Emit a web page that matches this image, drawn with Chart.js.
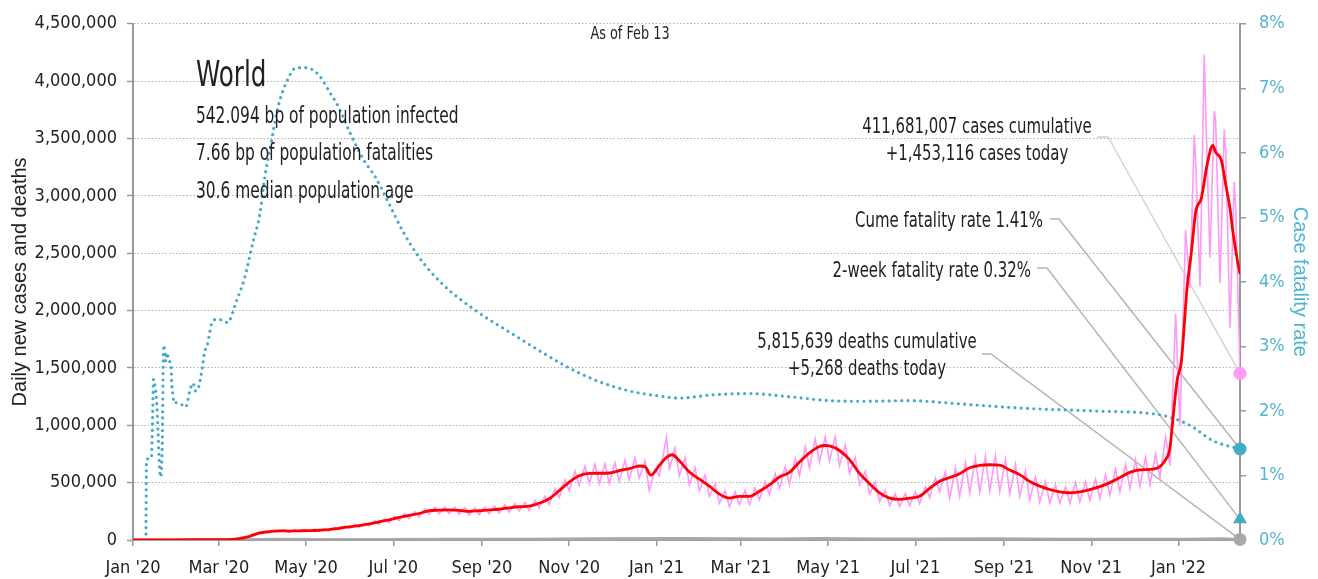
<!DOCTYPE html>
<html>
<head>
<meta charset="utf-8">
<script src="https://cdn.jsdelivr.net/npm/chart.js@4.4.1/dist/chart.umd.min.js"></script>
<style>
  html, body { margin: 0; padding: 0; background: #fff; }
  #wrap { width: 1318px; height: 579px; position: relative; }
</style>
</head>
<body>
<div id="wrap"><canvas id="chart"></canvas></div>
<script>
// x values are days since Jan 1 2020, case counts in thousands
const tickDays = [0, 60, 121, 182, 244, 305, 366, 425, 486, 547, 609, 670, 731];
const tickLabels = ["Jan '20", "Mar '20", "May '20", "Jul '20", "Sep '20", "Nov '20", "Jan '21", "Mar '21", "May '21", "Jul '21", "Sep '21", "Nov '21", "Jan '22"];

// daily new cases (pink)
const dailyDays = [0, 10, 21, 28, 35, 42, 43, 44, 50, 56,
  60, 64, 67, 71, 74, 78, 81, 85, 88, 92, 95, 99, 102, 106, 109, 113, 116, 120, 123, 127, 130, 134, 137, 141,
  144, 148, 151, 155, 158, 162, 165, 169, 172, 176, 179, 183, 186, 190, 193, 197, 200, 204, 207, 211, 214, 218,
  221, 225, 228, 232, 235, 239, 242, 246, 249, 253, 256, 260, 263, 267, 270, 274, 277, 281, 284, 288, 291, 295,
  298, 302, 305, 309, 312, 316, 319, 323, 326, 330, 333, 337, 340, 344, 347, 351, 354, 358, 361, 365, 368, 373,
  375, 379, 382, 386, 389, 393, 396, 400, 403, 407, 410, 414, 417, 421, 424, 428, 431, 435, 438, 442, 445, 449,
  452, 456, 459, 463, 466, 470, 473, 477, 480, 484, 487, 491, 494, 498, 501, 505, 508, 512, 515, 519, 522, 526,
  529, 533, 536, 540, 543, 547, 550, 554, 557, 561, 564, 568, 571, 575, 578, 582, 585, 589, 592, 596, 599, 603,
  606, 610, 613, 617, 620, 624, 627, 631, 634, 638, 641, 645, 648, 652, 655, 659, 662, 666, 669, 673, 676, 680,
  683, 687, 690, 694, 697, 701, 704, 708, 711, 715, 718, 722, 725, 729, 732, 736, 739, 742, 743, 746, 749, 750,
  753, 756, 757, 760, 763, 764, 767, 770, 771, 774];
const dailyCases = [0, 0.5, 1.5, 2, 3, 2.5, 15, 5, 2, 1.5,
  2, 4, 4, 10, 11, 26, 27, 52, 55, 76, 65, 87, 70, 90, 68, 88, 72, 90, 73, 94, 75, 98, 80, 107,
  90, 121, 100, 135, 108, 148, 122, 168, 138, 186, 150, 206, 170, 230, 186, 248, 200, 270, 225, 285, 228, 288,
  230, 287, 226, 282, 218, 280, 222, 287, 228, 295, 234, 305, 244, 318, 252, 326, 256, 345, 278, 382, 310, 445,
  370, 525, 430, 600, 475, 645, 490, 660, 490, 665, 490, 675, 510, 695, 525, 715, 540, 690, 430, 620, 560, 896,
  620, 800, 560, 720, 480, 630, 430, 565, 380, 490, 320, 430, 290, 420, 310, 430, 310, 455, 350, 510, 395, 580,
  450, 640, 485, 710, 560, 810, 630, 880, 680, 902, 690, 900, 650, 830, 580, 720, 480, 600, 400, 505, 335, 435,
  300, 405, 290, 405, 300, 420, 315, 465, 370, 540, 420, 595, 360, 630, 380, 675, 410, 715, 420, 730, 425, 735,
  420, 705, 400, 660, 380, 605, 350, 550, 330, 510, 320, 480, 320, 465, 320, 500, 330, 510, 345, 530, 360, 570,
  390, 620, 420, 660, 450, 700, 470, 720, 480, 750, 540, 900, 650, 1970, 1000, 2700, 2200, 3530, 3300, 2210, 4230, 3750,
  2460, 3740, 3650, 2240, 3580, 3400, 1850, 3120, 2900, 1453.116];

// 7-day average of new cases (red)
const avgDays = [0, 21, 42, 56, 60, 67, 74, 81, 88, 95, 102, 109, 116, 123, 130, 137, 144, 151, 158, 165, 172, 179,
  186, 193, 200, 207, 214, 221, 228, 235, 242, 249, 256, 263, 270, 277, 284, 291, 298, 305, 312, 319, 326, 333,
  340, 347, 354, 358, 362, 368, 373, 377, 382, 389, 396, 403, 410, 417, 424, 431, 438, 445, 452, 459, 466, 473,
  480, 484, 487, 494, 501, 508, 515, 522, 529, 536, 543, 550, 557, 564, 571, 578, 585, 592, 599, 606, 613, 620,
  627, 634, 641, 648, 655, 662, 669, 676, 683, 690, 697, 704, 711, 718, 722, 725, 727, 730, 733, 737, 740, 743,
  747, 751, 755, 757, 761, 764, 767, 769, 772, 774];
const avgCases = [0, 1, 2.5, 2, 2, 4, 12, 30, 60, 72, 80, 78, 80, 82, 85, 90, 102, 115, 125, 140, 159, 175,
  197, 215, 231, 255, 260, 262, 258, 250, 255, 262, 268, 280, 290, 295, 320, 360, 430, 505, 560, 580, 582, 584,
  605, 622, 645, 640, 565, 650, 720, 743, 690, 592, 530, 470, 400, 365, 381, 380, 425, 480, 549, 590, 680, 760,
  815, 824, 820, 780, 700, 580, 491, 410, 365, 355, 365, 381, 450, 512, 545, 578, 630, 650, 656, 652, 610, 570,
  510, 470, 440, 420, 412, 420, 440, 465, 500, 545, 590, 612, 615, 640, 700, 800, 1040, 1390, 1560, 2200, 2510, 2860,
  2980, 3270, 3440, 3380, 3310, 3100, 2890, 2690, 2450, 2320];

// case fatality rate, % (teal, right axis)
const cfrDays = [0, 9, 9.4, 11, 12.9, 13.8, 14.3, 15.2, 15.9, 16.8, 17.5, 18.2, 19.2, 19.9, 20.6, 21.1, 21.5, 22.2,
  22.9, 23.8, 25.2, 26.6, 27, 28, 28.7, 30.3, 33.8, 36.8, 38.5, 39.6, 42, 43.6, 45.4, 46.6, 48.5, 50.1, 51.7,
  53.6, 54.8, 58.3, 62, 66, 72.3, 78, 83.9, 88.6, 92, 96.7, 101.4, 107.2, 114.2, 121.2, 130.5, 137.5, 143.3,
  151.5, 160.8, 170.1, 179.5, 188.8, 200.4, 216.7, 240, 265.6, 300.6, 324, 347.2, 365, 382.2, 405.5, 431, 459,
  487, 510, 543, 578, 624.5, 671, 718, 732, 741, 755, 774];
const cfrPct = [0, 0, 1.24, 1.26, 1.28, 2.0, 2.49, 2.41, 2.31, 2.05, 1.69, 1.28, 0.98, 1.10, 1.69, 2.72, 3.02, 2.93,
  2.77, 2.90, 2.77, 2.72, 2.47, 2.24, 2.12, 2.13, 2.10, 2.06, 2.18, 2.30, 2.43, 2.31, 2.33, 2.44, 2.68, 2.92, 3.0,
  3.21, 3.34, 3.42, 3.41, 3.37, 3.70, 4.06, 4.62, 5.04, 5.60, 6.17, 6.71, 7.09, 7.32, 7.32, 7.19, 6.94, 6.73,
  6.32, 5.91, 5.60, 5.19, 4.78, 4.37, 3.96, 3.55, 3.19, 2.72, 2.47, 2.31, 2.24, 2.20, 2.25, 2.27, 2.22,
  2.16, 2.15, 2.16, 2.11, 2.04, 2.00, 1.94, 1.85, 1.75, 1.54, 1.41];

// daily deaths (grey)
const deathDays = [0, 60, 80, 100, 130, 180, 220, 280, 320, 380, 420, 450, 480, 520, 560, 600, 650, 700, 740, 760, 774];
const deathsK = [0, 0.3, 2, 7, 5, 5, 6, 6, 10, 14, 10, 9, 13, 9, 8, 10, 7.5, 7, 7, 10, 5.268];

// end-of-series figures
const lastDay = 774;
const todayCases = 1453116;
const todayDeaths = 5268;
const cumeCfr = 1.41;
const twoWeekCfr = 0.32;

const title = 'World';
const asOf = 'As of Feb 13';
const infoLines = ['542.094 bp of population infected', '7.66 bp of population fatalities', '30.6 median population age'];
const casesNote = ['411,681,007 cases cumulative', '+1,453,116 cases today'];
const cumeNote = 'Cume fatality rate 1.41%';
const twoWeekNote = '2-week fatality rate 0.32%';
const deathsNote = ['5,815,639 deaths cumulative', '+5,268 deaths today'];

const NARROW = "'Liberation Sans Narrow', 'DejaVu Sans Condensed', 'Arial Narrow', sans-serif";
const PLAIN = "'Liberation Sans', Arial, sans-serif";
const TEAL = '#45a9c7';
const TEAL_TXT = '#52b5d0';
const PINK = '#ff99f7';
const INK = '#222';

const toPts = (xs, ys, k) => xs.map((d, i) => ({x: d, y: ys[i] * k}));

// text squeezed sideways to look like the condensed face of the original
function squeezed(ctx, str, x, y, size, sx, align) {
  ctx.save();
  ctx.translate(x, y);
  ctx.scale(sx, 1);
  ctx.font = size + 'px ' + NARROW;
  ctx.textAlign = align;
  ctx.fillText(str, 0, 0);
  ctx.restore();
}

//draws header text, notes and leader lines
const notes = {
  id: 'notes',
  beforeDatasetsDraw(chart) {
    const {ctx, scales: {x, y, y2}} = chart;
    const ex = x.getPixelForValue(lastDay);
    const leader = (x0, yy, x1, tx, ty, col) => {
      ctx.beginPath();
      ctx.moveTo(x0, yy);
      ctx.lineTo(x1, yy);
      ctx.lineTo(tx, ty);
      ctx.strokeStyle = col;
      ctx.stroke();
    };
    ctx.save();
    ctx.lineWidth = 1.5;
    leader(1097, 137, 1108, ex, y.getPixelForValue(todayCases), '#d4d4d4');
    leader(1050, 219, 1059, ex, y2.getPixelForValue(cumeCfr), '#b4b4b4');
    leader(1037, 268, 1047, ex, y2.getPixelForValue(twoWeekCfr), '#b4b4b4');
    leader(982, 354, 991, ex, y.getPixelForValue(todayDeaths), '#b4b4b4');
    ctx.restore();
  },
  afterDraw(chart) {
    const ctx = chart.ctx;
    ctx.save();
    ctx.fillStyle = INK;
    ctx.textBaseline = 'alphabetic';

    squeezed(ctx, asOf, 630, 39, 17, 0.84, 'center');
    squeezed(ctx, title, 196, 86, 36, 0.76, 'left');
    [123, 160, 198].forEach((b, i) => squeezed(ctx, infoLines[i], 196, b, 23, 0.745, 'left'));

    squeezed(ctx, casesNote[0], 977, 133, 21, 0.79, 'center');
    squeezed(ctx, casesNote[1], 977, 160, 21, 0.79, 'center');
    squeezed(ctx, deathsNote[0], 867, 348, 21, 0.79, 'center');
    squeezed(ctx, deathsNote[1], 867, 375, 21, 0.79, 'center');
    squeezed(ctx, cumeNote, 1043, 227, 21, 0.79, 'right');
    squeezed(ctx, twoWeekNote, 1031, 277, 21, 0.79, 'right');
    ctx.restore();
  }
};

const tickFont = {family: NARROW, size: 18};

const config = {
  type: 'line',
  data: {
    datasets: [
      {data: [{x: lastDay, y: todayCases}], yAxisID: 'y', showLine: false, pointRadius: 6.5, pointBackgroundColor: PINK, pointBorderWidth: 0, clip: false, order: 0},
      {data: [{x: lastDay, y: cumeCfr}], yAxisID: 'y2', showLine: false, pointRadius: 6.5, pointBackgroundColor: TEAL, pointBorderWidth: 0, clip: false, order: 0},
      {data: [{x: lastDay, y: twoWeekCfr}], yAxisID: 'y2', showLine: false, pointStyle: 'triangle', pointRadius: 8, pointBackgroundColor: TEAL, pointBorderWidth: 0, clip: false, order: 0},
      {data: [{x: lastDay, y: todayDeaths}], yAxisID: 'y', showLine: false, pointRadius: 6.5, pointBackgroundColor: '#a8a8a8', pointBorderWidth: 0, clip: false, order: 0},
      {label: '7-day avg', data: toPts(avgDays, avgCases, 1000), yAxisID: 'y', borderColor: '#ff0000', borderWidth: 2.8, pointRadius: 0, cubicInterpolationMode: 'monotone', order: 1},
      {label: 'Case fatality rate', data: toPts(cfrDays, cfrPct, 1), yAxisID: 'y2', borderColor: TEAL, borderWidth: 3.2, borderDash: [0, 6.3], borderCapStyle: 'round', pointRadius: 0, cubicInterpolationMode: 'monotone', order: 2},
      {label: 'Deaths', data: toPts(deathDays, deathsK, 1000), yAxisID: 'y', borderColor: '#a8a8a8', borderWidth: 3, pointRadius: 0, order: 3},
      {label: 'Daily cases', data: toPts(dailyDays, dailyCases, 1000), yAxisID: 'y', borderColor: PINK, borderWidth: 1.6, pointRadius: 0, tension: 0, order: 4}
    ]
  },
  options: {
    responsive: true,
    maintainAspectRatio: false,
    animation: false,
    layout: {padding: {top: 21, left: 0, right: 0, bottom: 0}},
    plugins: {legend: {display: false}, tooltip: {enabled: false}},
    scales: {
      x: {
        type: 'linear', min: 0, max: lastDay,
        afterBuildTicks: s => { s.ticks = tickDays.map(v => ({value: v})); },
        afterFit: s => { s.height = 39; },
        ticks: {autoSkip: false, maxRotation: 0, font: tickFont, color: INK, padding: 12, callback: (v, i) => tickLabels[i]},
        grid: {drawOnChartArea: false, drawTicks: true, tickLength: 6, color: '#999', lineWidth: 1.5},
        border: {color: '#a0a0a0', width: 2}
      },
      y: {
        position: 'left', min: 0, max: 4500000,
        afterFit: s => { s.width = 133; },
        ticks: {stepSize: 500000, font: tickFont, color: INK, padding: 10, callback: v => v.toLocaleString('en-US')},
        grid: {color: '#b0b0b0', lineWidth: 1, tickLength: 6, tickColor: '#999', tickWidth: 1.5, tickBorderDash: []},
        border: {color: '#999', width: 2, dash: [1.5, 2]},
        title: {display: true, text: 'Daily new cases and deaths', color: INK, font: {family: PLAIN, size: 20}, padding: {top: 8, bottom: 0}}
      },
      y2: {
        position: 'right', min: 0, max: 8,
        afterFit: s => { s.width = 78; },
        ticks: {stepSize: 1, font: tickFont, color: TEAL_TXT, padding: 13, callback: v => v + '%'},
        grid: {drawOnChartArea: false, tickLength: 6, color: '#999', lineWidth: 1.5},
        border: {color: '#999', width: 2},
        title: {display: true, text: 'Case fatality rate', color: TEAL_TXT, font: {family: PLAIN, size: 20}, padding: {top: 6, bottom: 0}}
      }
    }
  },
  plugins: [notes]
};

const covidChart = new Chart(document.getElementById('chart'), config);
</script>
</body>
</html>
